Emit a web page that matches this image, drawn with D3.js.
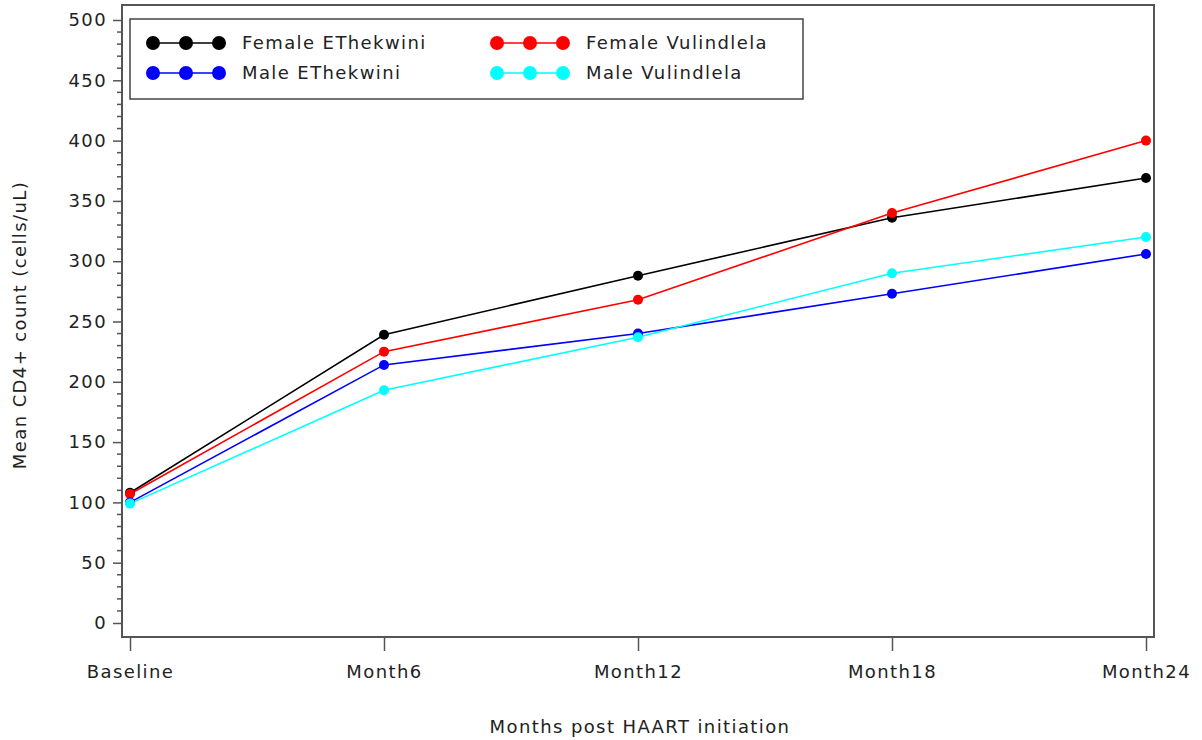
<!DOCTYPE html>
<html>
<head>
<meta charset="utf-8">
<title>Mean CD4+ count</title>
<script src="https://d3js.org/d3.v7.min.js"></script>
<style>
  body { margin: 0; background: #fff; }
  text { font-family: "DejaVu Sans", sans-serif; fill: #222; font-size: 18px; letter-spacing: 1.4px; }
</style>
</head>
<body>
<svg width="1202" height="740"></svg>
<script>
// data
var visits = ["Baseline", "Month6", "Month12", "Month18", "Month24"];
var seriesNames = ["Female EThekwini", "Male EThekwini", "Female Vulindlela", "Male Vulindlela"];
var seriesColors = ["#000000", "#0000ff", "#ff0000", "#00ffff"];
var femaleEThekwini = [108, 239, 288, 336, 369];
var maleEThekwini = [100, 214, 240, 273, 306];
var femaleVulindlela = [107, 225, 268, 340, 400];
var maleVulindlela = [99, 193, 237, 290, 320];
var yTicks = [0, 50, 100, 150, 200, 250, 300, 350, 400, 450, 500];

var series = [
  {name: seriesNames[0], color: seriesColors[0], values: femaleEThekwini},
  {name: seriesNames[2], color: seriesColors[2], values: femaleVulindlela},
  {name: seriesNames[1], color: seriesColors[1], values: maleEThekwini},
  {name: seriesNames[3], color: seriesColors[3], values: maleVulindlela}
];

var svg = d3.select("svg");
var frame = {left: 122, top: 5, right: 1154, bottom: 637};

var x = d3.scalePoint().domain(visits).range([130, 1146]);
var y = d3.scaleLinear().domain([0, 500]).range([623, 20]);

// frame
svg.append("rect")
    .attr("x", frame.left).attr("y", frame.top)
    .attr("width", frame.right - frame.left)
    .attr("height", frame.bottom - frame.top)
    .attr("fill", "none").attr("stroke", "#555").attr("stroke-width", 2);

// y axis
var yAxis = d3.axisLeft(y).tickValues(yTicks).tickSize(9).tickPadding(6);
var gy = svg.append("g").attr("transform", "translate(" + frame.left + ",0)").call(yAxis);
gy.select(".domain").remove();
gy.selectAll("line").attr("stroke", "#555").attr("stroke-width", 1.5);
gy.selectAll("text").attr("font-size", null).attr("font-family", null).attr("fill", "#222");

var minor = d3.range(0, 501, 10).filter(function(d) { return d % 50 !== 0; });
svg.append("g").selectAll("line").data(minor).enter().append("line")
    .attr("x1", frame.left - 5).attr("x2", frame.left)
    .attr("y1", function(d) { return y(d); }).attr("y2", function(d) { return y(d); })
    .attr("stroke", "#555").attr("stroke-width", 1.5);

// x axis
var xAxis = d3.axisBottom(x).tickSize(14).tickPadding(14);
var gx = svg.append("g").attr("transform", "translate(0," + frame.bottom + ")").call(xAxis);
gx.select(".domain").remove();
gx.selectAll("line").attr("stroke", "#555").attr("stroke-width", 1.5);
gx.selectAll("text").attr("font-size", null).attr("font-family", null).attr("fill", "#222");
gy.attr("font-size", null).attr("font-family", null);
gx.attr("font-size", null).attr("font-family", null);

// axis titles
svg.append("text")
    .attr("x", (frame.left + frame.right) / 2 + 2).attr("y", 733)
    .attr("text-anchor", "middle")
    .text("Months post HAART initiation");
svg.append("text")
    .attr("transform", "translate(26,325) rotate(-90)")
    .attr("text-anchor", "middle")
    .text("Mean CD4+ count (cells/uL)");

// lines and points
var line = d3.line()
    .x(function(d, i) { return x(visits[i]); })
    .y(function(d) { return y(d); });

series.forEach(function(s) {
  svg.append("path")
      .datum(s.values)
      .attr("d", line)
      .attr("fill", "none")
      .attr("stroke", s.color)
      .attr("stroke-width", 1.6);
});
series.forEach(function(s) {
  svg.append("g").selectAll("circle").data(s.values).enter().append("circle")
      .attr("cx", function(d, i) { return x(visits[i]); })
      .attr("cy", function(d) { return y(d); })
      .attr("r", 5)
      .attr("fill", s.color);
});

// legend
var legend = svg.append("g");
legend.append("rect")
    .attr("x", 130).attr("y", 19).attr("width", 673).attr("height", 80)
    .attr("fill", "#fff").attr("stroke", "#444").attr("stroke-width", 1.5);

var legendPos = [
  {col: 0, row: 0}, {col: 0, row: 1}, {col: 1, row: 0}, {col: 1, row: 1}
];
seriesNames.forEach(function(name, i) {
  var p = legendPos[i];
  var x0 = 153 + p.col * 344, y0 = 43 + p.row * 30;
  var g = legend.append("g").attr("transform", "translate(" + x0 + "," + y0 + ")");
  g.append("line").attr("x1", 0).attr("x2", 66).attr("y1", 0).attr("y2", 0)
      .attr("stroke", seriesColors[i]).attr("stroke-width", 1.6);
  g.selectAll("circle").data([0, 33, 66]).enter().append("circle")
      .attr("cx", function(d) { return d; }).attr("cy", 0).attr("r", 7)
      .attr("fill", seriesColors[i]);
  g.append("text").attr("x", 89).attr("y", 6).text(name);
});
</script>
</body>
</html>
